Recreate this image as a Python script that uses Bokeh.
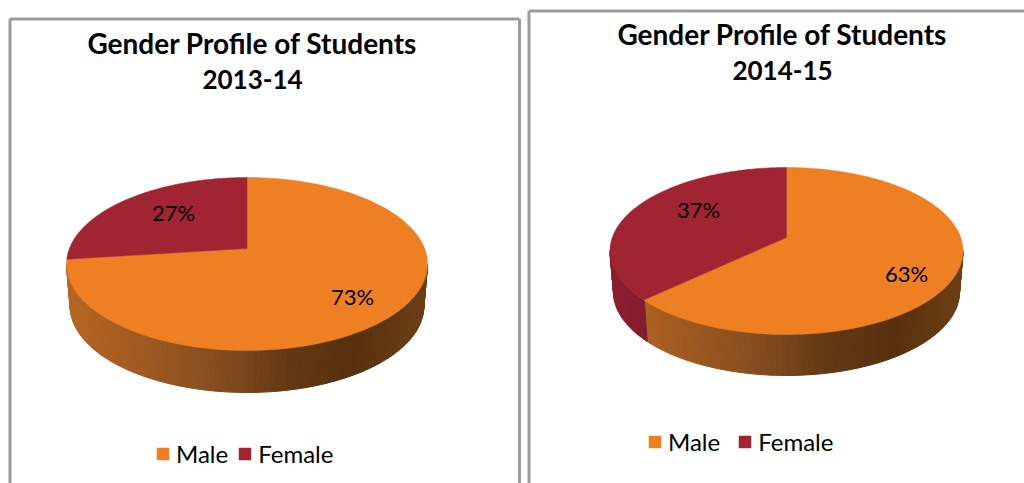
import numpy as np
from bokeh.core.properties import value
from bokeh.embed import file_html
from bokeh.layouts import row
from bokeh.models import Legend, LegendItem, Range1d
from bokeh.plotting import figure
from bokeh.resources import INLINE

categories = ["Male", "Female"]
shares_2013 = [73, 27]
shares_2014 = [63, 37]
labels_2013 = ["73%", "27%"]
labels_2014 = ["63%", "37%"]
titles_2013 = ["Gender Profile of Students", "2013-14"]
titles_2014 = ["Gender Profile of Students", "2014-15"]

TOP = ["#EE7F22", "#A12433"]
PANEL = "#9B9B9B"
FONT = "Lato"
WALL_STOPS = [0.0, 0.12, 0.4, 0.62, 0.8, 1.0]
WALL = {
    0: [(182, 102, 34), (170, 94, 32), (136, 78, 32), (98, 56, 20), (88, 48, 14), (108, 62, 20)],
    1: [(140, 30, 48), (128, 28, 44), (110, 24, 38), (90, 20, 30), (80, 18, 26), (90, 20, 30)],
}


def hexcol(rgb):
    return "#%02x%02x%02x" % tuple(int(round(c)) for c in rgb)


def wall_colour(cat, t):
    s = WALL[cat]
    return hexcol([np.interp(t, WALL_STOPS, [c[i] for c in s]) for i in range(3)])


def draw_pie(p, shares, labels, titles, g, lay):
    cx, apex, top, front, left, right, depth = g
    up, down = apex - top, front - apex
    k = (down - up) / (down + up)
    h = up * (1 + k)
    half = (right - left) / 2
    A = half * np.sqrt(1 - k * k)

    def project(th):
        X, Y = np.sin(th), np.cos(th)
        w = 1 + k * Y
        return cx + A * X / w, apex - h * Y / w

    # side wall
    th_all = np.radians(np.arange(0, 360.01, 1.5))
    bounds = np.cumsum([0] + shares) / sum(shares) * 2 * np.pi
    xs, ys, cols = [], [], []
    for a, b in zip(th_all[:-1], th_all[1:]):
        m = (a + b) / 2
        if np.cos(m) > -k:
            continue
        cat = 0 if m < bounds[1] else 1
        xa, ya = project(a)
        xb, yb = project(b)
        xs.append([xa, xb, cx + (xb - cx) * 0.98, cx + (xa - cx) * 0.98])
        ys.append([ya, yb, yb + depth, ya + depth])
        cols.append(wall_colour(cat, ((xa + xb) / 2 - left) / (right - left)))
    p.patches(xs, ys, fill_color=cols, line_color=cols, line_width=1)

    # top face
    rends = []
    for i in range(len(shares)):
        th = np.linspace(bounds[i], bounds[i + 1], 160)
        x, y = project(th)
        r = p.patch(np.r_[cx, x], np.r_[apex, y], fill_color=TOP[i], line_color=TOP[i], line_width=0.5)
        rends.append(r)

    # panel frame
    lx, ty, rx = lay["panel"]
    p.line([lx, lx], [483, ty], line_color=PANEL, line_width=3)
    p.line([lx, rx], [ty, ty], line_color=PANEL, line_width=3)
    if rx < 1000:
        p.line([rx, rx], [ty, 483], line_color=PANEL, line_width=3)

    # texts
    for t, (tx, ty2), sz in zip(titles, lay["title"], lay["title_size"]):
        p.text([tx], [ty2], text=[t], text_font=value(FONT), text_font_style="bold",
               text_font_size=sz, text_align="center", text_baseline="middle",
               text_color="#000000")
    for t, (tx, ty2) in zip(labels, lay["label"]):
        p.text([tx], [ty2], text=[t], text_font=value(FONT), text_font_size=lay["label_size"],
               text_align="center", text_baseline="middle", text_color="#000000")

    legend = Legend(
        items=[LegendItem(label=c, renderers=[r]) for c, r in zip(categories, rends)],
        orientation="horizontal", location=lay["legend"], padding=0, margin=0,
        spacing=lay["spacing"], label_standoff=6, glyph_width=15, glyph_height=15,
        background_fill_alpha=0, border_line_alpha=0,
        label_text_font=FONT, label_text_font_size=lay["legend_size"], label_text_color="#000000",
    )
    p.add_layout(legend, "center")


def make(x0, x1, w):
    p = figure(width=w, height=483, x_range=Range1d(x0, x1), y_range=Range1d(483, 0),
               output_backend="svg", toolbar_location=None, min_border=0)
    p.axis.visible = False
    p.grid.visible = False
    p.outline_line_color = None
    return p


p1 = make(0, 524, 524)
draw_pie(p1, shares_2013, labels_2013, titles_2013,
         (246.5, 248, 177, 350, 65, 426, 42),
         dict(panel=(9.5, 18.5, 519), title=[(252, 42), (252, 79)], label=[(352, 296), (173, 212)],
              title_size=["28px", "26px"], label_size="22px", legend_size="24px",
              legend=(155, 15), spacing=9))
p2 = make(524, 1024, 500)
draw_pie(p2, shares_2014, labels_2014, titles_2014,
         (786, 237, 167, 334, 609, 962, 41),
         dict(panel=(528.5, 10.5, 1024), title=[(782, 33), (782, 70)], label=[(906, 273), (698, 209)],
              title_size=["28px", "26px"], label_size="22px", legend_size="24px",
              legend=(123, 27), spacing=17))

page = row(p1, p2, spacing=0)
open("out.html", "w").write(file_html(page, INLINE))
